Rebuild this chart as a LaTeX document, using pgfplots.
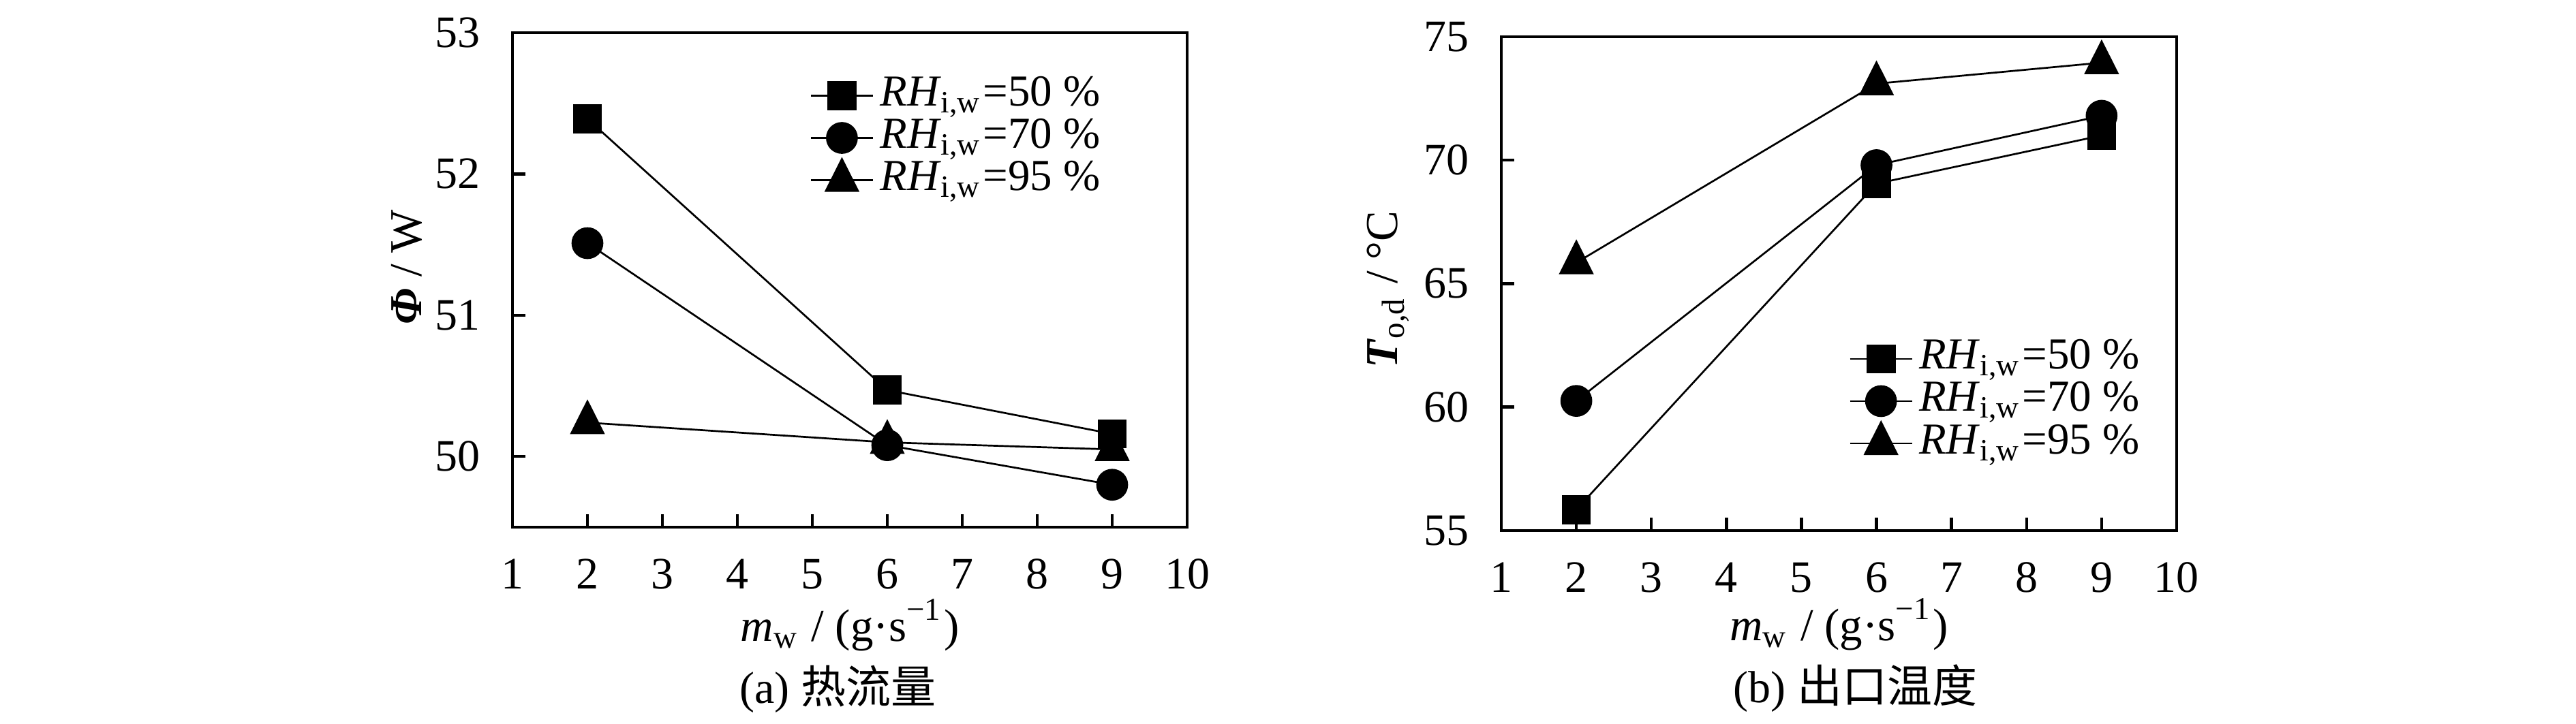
\documentclass[border=0pt]{standalone}
\usepackage{pgfplots}
\pgfplotsset{compat=1.18}
\usepackage{fontspec}
\setmainfont{Liberation Serif}
\newfontfamily\cjk{Noto Sans CJK SC}
\begin{document}
\begin{tikzpicture}
\useasboundingbox (0,0) rectangle (378pt,106.3pt);
\pgfplotsset{
  myaxis/.style={
    scale only axis,
    clip=false,
    anchor=south west,
    xmin=1, xmax=10,
    xtick={1,2,...,10},
    tick pos=left,
    tick align=inside,
    major tick length=1.85pt,
    axis line style={line width=0.45pt},
    every tick/.style={black, line width=0.45pt},
    /pgf/number format/assume math mode=true,
    tick label style={font=\fontsize{6.6}{7}\selectfont},
    yticklabel style={xshift=-1.2pt},
    xticklabel style={yshift=-1.15pt},
    label style={font=\fontsize{6.7}{7.5}\selectfont},
    xlabel={\textit{m}\textsubscript{w} / (g·s\textsuperscript{−1})},
    legend cell align=left,
    legend image code/.code={\draw[mark repeat=2,mark phase=2] plot coordinates {(0pt,0pt) (4.55pt,0pt) (9.1pt,0pt)};},
    legend style={draw=none, fill=none, inner sep=0pt, outer sep=0pt, row sep=0pt,
      font=\fontsize{6.5}{6.5}\selectfont,
      nodes={inner sep=0pt, text height=4.6pt, text depth=1.6pt},
      /tikz/every odd column/.append style={column sep=0.9pt}},
    every axis plot/.append style={black, line width=0.27pt},
  },
  sq/.style={mark=square*, mark size=2pt, mark options={solid, fill=black}},
  ci/.style={mark=*, mark size=2.2pt, mark options={solid, fill=black}},
  tr/.style={mark=triangle*, mark size=2.71pt, mark options={solid, fill=black, yscale=1.15}},
}
% (a)
\begin{axis}[myaxis,
  at={(75.2pt,28.9pt)}, width=99pt, height=72.6pt,
  ymin=49.5, ymax=53, ytick={50,51,52,53},
  ylabel={\textbf{\textit{Φ}} / W},
  ylabel style={at={(axis description cs:-0.157,0.526)}, anchor=center},
  xlabel style={at={(axis description cs:0.5,-0.198)}, anchor=center},
  legend style={at={(axis description cs:0.441,0.787)}, anchor=west},
]
\addplot[sq] coordinates {(2,52.39) (6,50.47) (9,50.16)};
\addlegendimage{black, line width=0.27pt, ci}
\addplot[tr] coordinates {(2,50.24) (6,50.10) (9,50.05)};
\addplot[ci, forget plot] coordinates {(2,51.51) (6,50.08) (9,49.80)};
\legend{\textit{RH}\textsubscript{i,w}=50 \%,\textit{RH}\textsubscript{i,w}=70 \%,\textit{RH}\textsubscript{i,w}=95 \%}
\node[font=\fontsize{6.6}{7}\selectfont, anchor=center] at (axis description cs:0.482,-0.327) {(a) {\cjk 热流量}};
\end{axis}
% (b)
\begin{axis}[myaxis,
  at={(220.3pt,28.4pt)}, width=99.1pt, height=72.5pt,
  ymin=55, ymax=75, ytick={55,60,65,70,75},
  ylabel={\textbf{\textit{T}}\textsubscript{o,d} / °C},
  ylabel style={at={(axis description cs:-0.168,0.488)}, anchor=center},
  xlabel style={at={(axis description cs:0.5,-0.19)}, anchor=center},
  legend style={at={(axis description cs:0.515,0.262)}, anchor=west},
]
\addplot[sq] coordinates {(2,55.85) (6,69.05) (9,71.0)};
\addlegendimage{black, line width=0.27pt, ci}
\addplot[tr] coordinates {(2,65.85) (6,73.1) (9,73.95)};
\addplot[ci, forget plot] coordinates {(2,60.25) (6,69.8) (9,71.8)};
\legend{\textit{RH}\textsubscript{i,w}=50 \%,\textit{RH}\textsubscript{i,w}=70 \%,\textit{RH}\textsubscript{i,w}=95 \%}
\node[font=\fontsize{6.6}{7}\selectfont, anchor=center] at (axis description cs:0.524,-0.32) {(b) {\cjk 出口温度}};
\end{axis}
\end{tikzpicture}
\end{document}
